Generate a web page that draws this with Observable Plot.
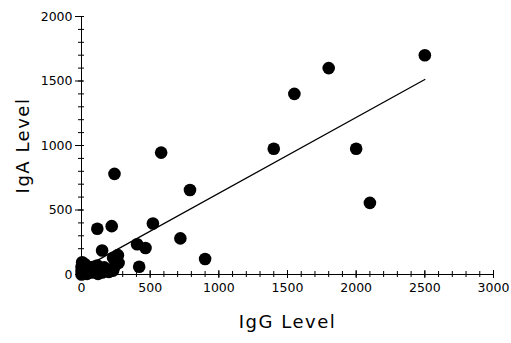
<!DOCTYPE html>
<html>
<head>
<meta charset="utf-8">
<script src="https://cdn.jsdelivr.net/npm/d3@7"></script>
<script src="https://cdn.jsdelivr.net/npm/@observablehq/plot@0.6"></script>
<style>
  html, body { margin: 0; padding: 0; background: #fff; }
  #chart svg { display: block; }
</style>
</head>
<body>
<div id="chart"></div>
<script>
// IgG vs IgA levels
const igg = [2500, 1800, 1550, 1400, 2000, 2100, 580, 240, 790, 115, 220, 520, 720, 900, 405, 466, 420,
             150, 265, 270, 240, 200, 230, 250, 230,
             0, 0, 0, 5, 10, 20, 25, 40, 50, 60, 75, 90, 100, 115, 130, 150, 165, 180, 120];
const iga = [1700, 1600, 1400, 975, 975, 555, 945, 780, 655, 355, 375, 395, 280, 120, 235, 205, 60,
             186, 150, 90, 60, 20, 30, 110, 130,
             0, 30, 60, 95, 15, 45, 80, 5, 30, 55, 15, 60, 30, 70, 40, 15, 55, 25, 5];

// fitted line endpoints
const fitIgG = [0, 2500];
const fitIgA = [42, 1512];

const xMajor = [0, 500, 1000, 1500, 2000, 2500, 3000];
const xMinor = d3.range(0, 3001, 100);
const yMajor = [0, 500, 1000, 1500, 2000];
const yMinor = d3.range(0, 2001, 100);

const xTitle = "IgG Level";
const yTitle = "IgA Level";

const points = igg.map((g, i) => ({igg: g, iga: iga[i]}));
const fit = fitIgG.map((g, i) => ({igg: g, iga: fitIgA[i]}));

const font = "DejaVu Sans, Verdana, sans-serif";
const fmt = d3.format("d");

const chart = Plot.plot({
  width: 511,
  height: 343,
  marginLeft: 81,
  marginRight: 18,
  marginTop: 16,
  marginBottom: 69,
  style: {fontFamily: font, fontSize: "12px", background: "#fff", color: "#000"},
  x: {domain: [0, 3000], label: null},
  y: {domain: [0, 2000], label: null},
  marks: [
    // axis lines
    Plot.ruleY([0], {x1: 0, x2: 3000, stroke: "#000", strokeWidth: 1}),
    Plot.ruleX([0], {y1: 0, y2: 2000, stroke: "#000", strokeWidth: 1}),
    // x ticks (crossing the axis)
    Plot.tickX(xMinor, {x: d => d, insetTop: 255, insetBottom: -3, stroke: "#000", strokeWidth: 1}),
    Plot.tickX(xMajor, {x: d => d, insetTop: 254, insetBottom: -4, stroke: "#000", strokeWidth: 1}),
    Plot.axisX({ticks: xMajor, tickSize: 0, tickPadding: 9, label: null, fill: "#000",
                tickFormat: fmt, fontSize: 12.5}),
    // y ticks
    Plot.tickY(yMinor, {y: d => d, insetLeft: -3, insetRight: 409, stroke: "#000", strokeWidth: 1}),
    Plot.tickY(yMajor, {y: d => d, insetLeft: -6, insetRight: 410, stroke: "#000", strokeWidth: 1}),
    Plot.axisY({ticks: yMajor, tickSize: 0, tickPadding: 9, label: null, fill: "#000",
                tickFormat: fmt, fontSize: 12.5}),
    // fitted line
    Plot.line(fit, {x: "igg", y: "iga", stroke: "#000", strokeWidth: 1.3}),
    // points
    Plot.dot(points, {x: "igg", y: "iga", r: 6.3, fill: "#000", stroke: "none"}),
    // axis titles
    Plot.text([xTitle], {text: d => d, frameAnchor: "bottom", textAnchor: "middle", dy: 53,
                         fontSize: 18, fill: "#000"}),
    Plot.text([yTitle], {text: d => d, frameAnchor: "left", textAnchor: "middle", dx: -58,
                         rotate: -90, fontSize: 18, fill: "#000"})
  ]
});
// widen title letter spacing like the reference
d3.select(chart).selectAll("text")
  .filter(function() { return this.textContent === xTitle || this.textContent === yTitle; })
  .style("letter-spacing", "1.5px");
document.getElementById("chart").appendChild(chart);
</script>
</body>
</html>
